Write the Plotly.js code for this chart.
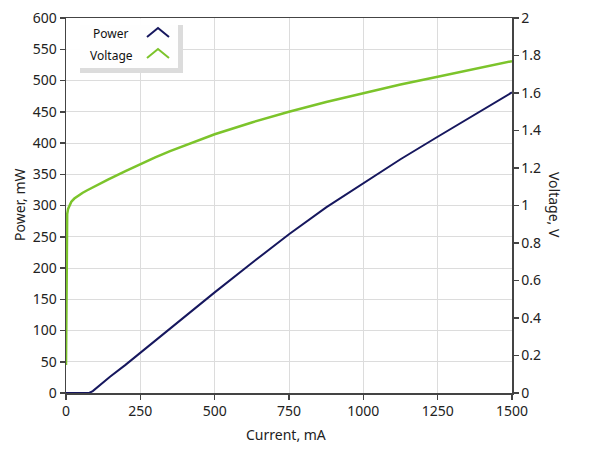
<!DOCTYPE html>
<html>
<head>
<meta charset="utf-8">
<script src="https://cdn.plot.ly/plotly-3.0.1.min.js"></script>
<style>html,body{margin:0;padding:0;background:#fff;}#chart{width:589px;height:456px;}</style>
</head>
<body>
<div id="chart"></div>
<script>
// Power vs current
var powerCurrent = [0, 78, 90, 100, 114, 148, 200, 250, 375, 500, 625, 750, 875, 1000, 1125, 1250, 1375, 1500];
var powerValues  = [0, 0, 3, 7, 13, 26, 45, 64.5, 112, 161, 208, 254, 297, 336, 374, 410, 446, 481];
// Voltage vs current
var voltCurrent = [0, 1, 2, 4, 7, 12, 18, 28, 40, 55, 70, 100, 141, 200, 250, 300, 350, 400, 450, 500, 625, 750, 875, 1000, 1125, 1250, 1375, 1500];
var voltValues  = [0.15, 0.55, 0.92, 0.955, 0.982, 1.003, 1.02, 1.037, 1.052, 1.067, 1.08, 1.105, 1.138, 1.183, 1.221, 1.257, 1.29, 1.321, 1.351, 1.38, 1.443, 1.50, 1.552, 1.60, 1.645, 1.687, 1.73, 1.77];
var seriesNames = ["Power", "Voltage"];
var xTitle = "Current, mA", yTitle = "Power, mW", y2Title = "Voltage, V";

var FONT = "Noto Sans, Open Sans, sans-serif";
var navy = "#16175e", green = "#7cc42b";

var traces = [
  {x: powerCurrent, y: powerValues, type: "scatter", mode: "lines", name: seriesNames[0],
   line: {color: navy, width: 2}, yaxis: "y"},
  {x: voltCurrent, y: voltValues, type: "scatter", mode: "lines", name: seriesNames[1],
   line: {color: green, width: 2.5}, yaxis: "y2"}
];

function px(x){ return (x-66)/446; }
function py(y){ return (393-y)/375; }

var shapes = [
  {type:"rect", xref:"paper", yref:"paper", x0:px(80), x1:px(183), y0:py(73), y1:py(25),
   fillcolor:"#dcdcdc", line:{width:0}, layer:"above"},
  {type:"rect", xref:"paper", yref:"paper", x0:px(66.5), x1:px(178), y0:py(68), y1:py(18.5),
   fillcolor:"rgba(255,255,255,0.95)", line:{width:0}, layer:"above"},
  {type:"path", xref:"paper", yref:"paper", layer:"above",
   path:"M "+px(147)+" "+py(37)+" L "+px(158)+" "+py(28)+" L "+px(169)+" "+py(37),
   line:{color:navy, width:2}},
  {type:"path", xref:"paper", yref:"paper", layer:"above",
   path:"M "+px(147)+" "+py(58)+" L "+px(158)+" "+py(49)+" L "+px(169)+" "+py(58),
   line:{color:green, width:2}}
];

var annotations = [
  {text: seriesNames[0], xref:"paper", yref:"paper", x:px(110), y:py(33), showarrow:false,
   font:{family:FONT, size:12, color:"#111"}, xanchor:"center", yanchor:"middle"},
  {text: seriesNames[1], xref:"paper", yref:"paper", x:px(111), y:py(55), showarrow:false,
   font:{family:FONT, size:12, color:"#111"}, xanchor:"center", yanchor:"middle"},
  {text: yTitle, xref:"paper", yref:"paper", x:px(19), y:py(205), showarrow:false, textangle:-90,
   font:{family:FONT, size:14, color:"#222"}, xanchor:"center", yanchor:"middle"},
  {text: y2Title, xref:"paper", yref:"paper", x:px(555), y:py(205), showarrow:false, textangle:90,
   font:{family:FONT, size:14, color:"#222"}, xanchor:"center", yanchor:"middle"},
  {text: xTitle, xref:"paper", yref:"paper", x:px(286), y:py(434), showarrow:false,
   font:{family:FONT, size:14, color:"#222"}, xanchor:"center", yanchor:"middle"}
];

var axisCommon = {
  showline:true, linecolor:"#444", linewidth:1.5,
  ticks:"outside", ticklen:5, tickcolor:"#444", tickwidth:1.5,
  gridcolor:"#dcdcdc", gridwidth:1, zeroline:false,
  tickfont:{family:FONT, size:14, color:"#222"}
};

var layout = {
  width:589, height:456,
  margin:{l:66, r:77, t:18, b:63},
  paper_bgcolor:"#fff", plot_bgcolor:"#fff",
  showlegend:false,
  xaxis: Object.assign({}, axisCommon, {range:[0,1500], dtick:250, tick0:0, mirror:true}),
  yaxis: Object.assign({}, axisCommon, {range:[0,600], dtick:50, tick0:0}),
  yaxis2: Object.assign({}, axisCommon, {range:[0,2], dtick:0.2, tick0:0, overlaying:"y", side:"right", showgrid:false}),
  shapes: shapes,
  annotations: annotations
};

Plotly.newPlot("chart", traces, layout, {displayModeBar:false, staticPlot:true});
</script>
</body>
</html>
